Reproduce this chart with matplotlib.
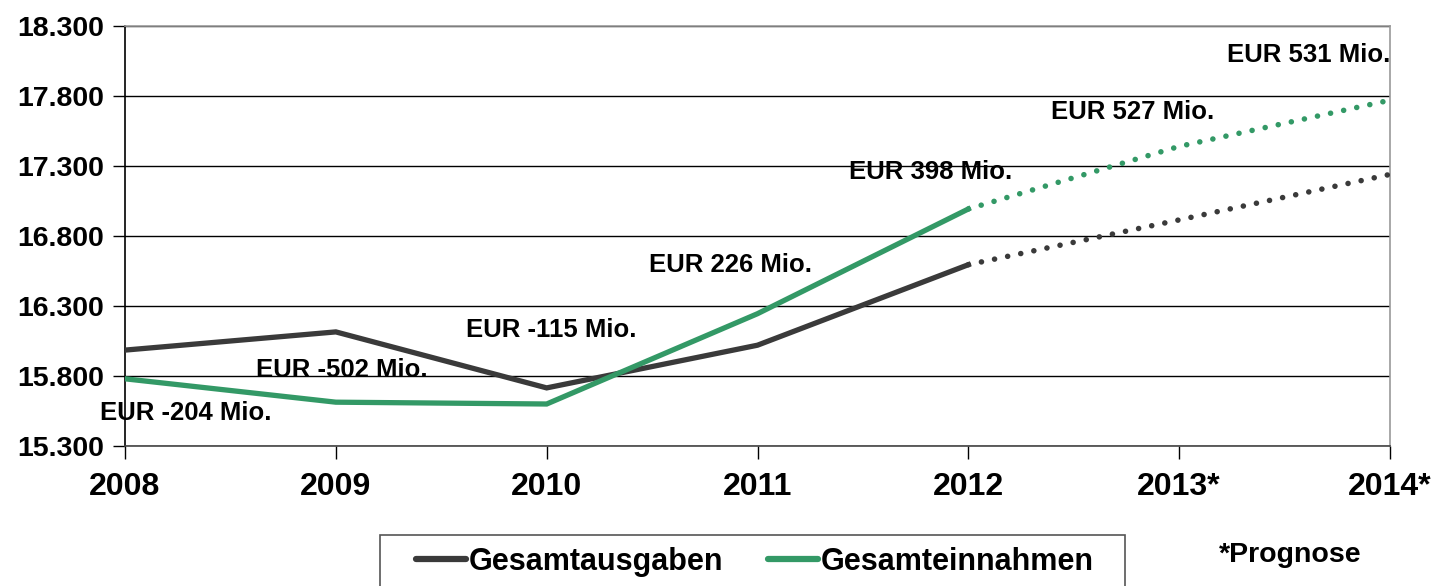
import matplotlib.pyplot as plt
from matplotlib.ticker import FuncFormatter
from matplotlib.lines import Line2D
from matplotlib.patches import Rectangle

plt.rcParams['font.family'] = ['Liberation Sans', 'DejaVu Sans']

# Daten
years = ['2008', '2009', '2010', '2011', '2012', '2013*', '2014*']
ausgaben = [15985, 16115, 15715, 16020, 16595, 16915, 17240]
einnahmen = [15780, 15613, 15600, 16245, 16993, 17440, 17770]
saldo = [-204, -502, -115, 226, 398, 527, 531]
n_ist = 5  # 2008-2012 Ist-Werte, danach Prognose

# Position der Saldo-Beschriftungen (x-Index, y-Wert, Ausrichtung)
label_pos = [(0.29, 15536, 'center'), (1.03, 15843, 'center'), (2.02, 16129, 'center'),
             (2.87, 16593, 'center'), (3.82, 17257, 'center'), (4.78, 17686, 'center'),
             (6.0, 18093, 'right')]

c_aus = '#3a3a3a'
c_ein = '#339966'

fig = plt.figure(figsize=(14.35, 5.86), dpi=100)
ax = fig.add_axes([125 / 1435, 1 - 446 / 586, 1265 / 1435, 420 / 586])

x = list(range(len(years)))
dots = (0, (0.01, 2.4))
for vals, col in [(ausgaben, c_aus), (einnahmen, c_ein)]:
    ax.plot(x[:n_ist], vals[:n_ist], color=col, lw=3.8, solid_joinstyle='miter', zorder=3)
    ax.plot(x[n_ist - 1:], vals[n_ist - 1:], color=col, lw=4.0, linestyle=dots,
            dash_capstyle='round', zorder=3)

for (lx, ly, ha), s in zip(label_pos, saldo):
    ax.text(lx, ly, f'EUR {s} Mio.', ha=ha, va='center', fontsize=18.5,
            fontweight='bold', color='black', zorder=4)

ax.set_xlim(0, 6)
ax.set_ylim(15300, 18300)
ax.set_yticks(range(15300, 18301, 500))
ax.yaxis.set_major_formatter(FuncFormatter(lambda v, p: f'{v:,.0f}'.replace(',', '.')))
ax.set_xticks(x)
ax.set_xticklabels(years)
ax.grid(axis='y', color='black', lw=1.0)
ax.set_axisbelow(True)

for lab in ax.get_yticklabels():
    lab.set_fontweight('bold')
    lab.set_fontsize(20.5)
for lab in ax.get_xticklabels():
    lab.set_fontweight('bold')
    lab.set_fontsize(23)
ax.tick_params(axis='y', direction='out', length=9, width=1, pad=6)
ax.tick_params(axis='x', direction='out', length=9, width=1, pad=10)

ax.spines['left'].set_color('black')
ax.spines['bottom'].set_color('#444444')
ax.spines['top'].set_color('#999999')
ax.spines['right'].set_color('#999999')
for sp in ax.spines.values():
    sp.set_linewidth(1.2)

# Legende: Rahmen separat, reicht unten über den Bildrand hinaus
fig.patches.append(Rectangle((380 / 1435, -0.05), 745 / 1435, 0.05 + 51 / 586,
                             transform=fig.transFigure, fill=False,
                             edgecolor='#555555', lw=1.2))
handles = [Line2D([], [], color=c_aus, lw=4.5, solid_capstyle='round'),
           Line2D([], [], color=c_ein, lw=4.5, solid_capstyle='round')]
fig.legend(handles, ['Gesamtausgaben', 'Gesamteinnahmen'], loc='center left',
           bbox_to_anchor=(416 / 1435, 1 - 562 / 586), ncol=2, frameon=False,
           handlelength=1.65, handletextpad=0.08, columnspacing=1.45,
           borderpad=0, borderaxespad=0,
           prop={'weight': 'bold', 'size': 22})

fig.text(1290 / 1435, 1 - 555 / 586, '*Prognose', ha='center', va='center',
         fontsize=20.5, fontweight='bold')

fig.savefig('out.png', dpi=100)
